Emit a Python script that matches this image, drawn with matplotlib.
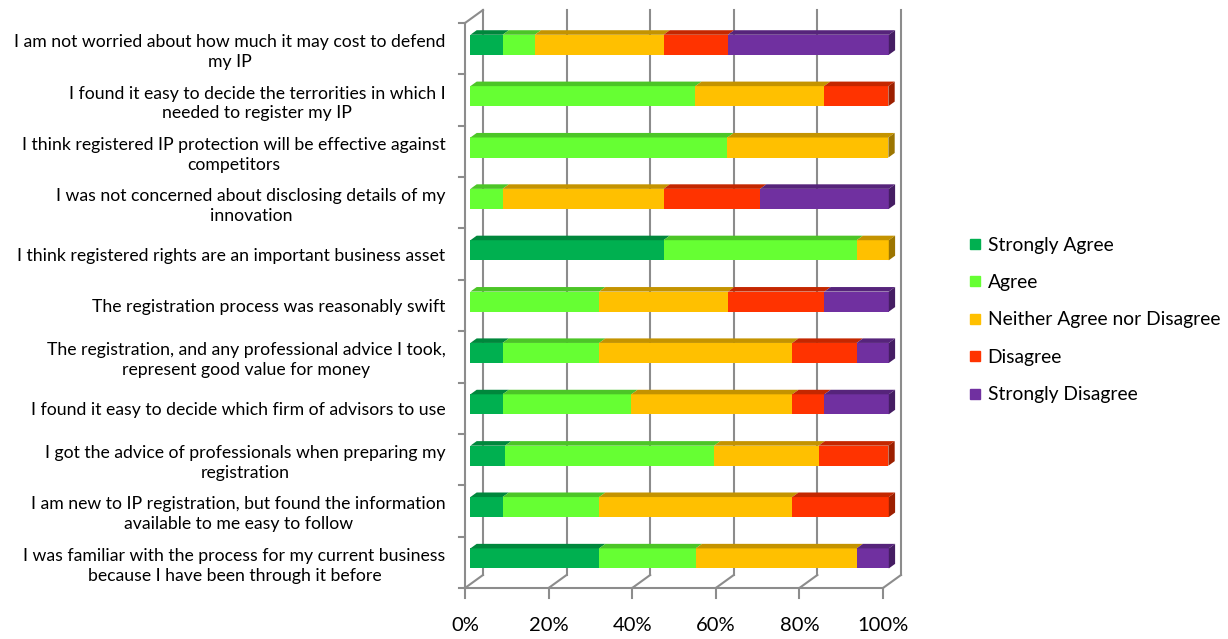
import matplotlib.pyplot as plt
from matplotlib.lines import Line2D

plt.rcParams['font.family'] = ['Lato', 'DejaVu Sans']

# survey statements, top to bottom
statements = [
    "I am not worried about how much it may cost to defend\nmy IP",
    "I found it easy to decide the terrorities in which I\nneeded to register my IP",
    "I think registered IP protection will be effective against\ncompetitors",
    "I was not concerned about disclosing details of my\ninnovation",
    "I think registered rights are an important business asset",
    "The registration process was reasonably swift",
    "The registration, and any professional advice I took,\nrepresent good value for money",
    "I found it easy to decide which firm of advisors to use",
    "I got the advice of professionals when preparing my\nregistration",
    "I am new to IP registration, but found the information\navailable to me easy to follow",
    "I was familiar with the process for my current business\nbecause I have been through it before",
]

# share of answers in percent
strongly_agree = [7.7, 0, 0, 0, 46.2, 0, 7.7, 7.7, 8.3, 7.7, 30.8]
agree = [7.7, 53.8, 61.5, 7.7, 46.2, 30.8, 23.1, 30.8, 50.0, 23.1, 23.1]
neither = [30.8, 30.8, 38.5, 38.5, 7.7, 30.8, 46.2, 38.5, 25.0, 46.2, 38.5]
disagree = [15.4, 15.4, 0, 23.1, 0, 23.1, 15.4, 7.7, 16.7, 23.1, 0]
strongly_disagree = [38.5, 0, 0, 30.8, 0, 15.4, 7.7, 15.4, 0, 0, 7.7]

series = [strongly_agree, agree, neither, disagree, strongly_disagree]
names = ["Strongly Agree", "Agree", "Neither Agree nor Disagree",
         "Disagree", "Strongly Disagree"]
front_col = ["#00B050", "#66FF33", "#FFC000", "#FF3300", "#7030A0"]
top_col = ["#00873C", "#4CC527", "#C49300", "#C42700", "#56247B"]
side_col = ["#006B30", "#3C9E1F", "#9C7500", "#9C1F00", "#451D63"]

x_ticks = [0, 20, 40, 60, 80, 100]
x_ticklabels = ["0%", "20%", "40%", "60%", "80%", "100%"]

# fake 3d depth: shift per unit depth in data units
DX = 4.3
DY = 0.253
d0, d1 = 0.3, 0.65
h = 0.195
grid = "#8c8c8c"


def proj(x, y, d):
    return x + d * DX, y - d * DY


def poly(ax, pts, color):
    xs = [p[0] for p in pts]
    ys = [p[1] for p in pts]
    ax.fill(xs, ys, color=color, lw=0, clip_on=False, zorder=3)


fig = plt.figure(figsize=(12.28, 6.39), dpi=100)
ax = fig.add_axes([465 / 1228, 51 / 639, 418 / 1228, 565 / 639])
ax.set_xlim(0, 100)
ax.set_ylim(10.5, -0.5)
n = len(statements)

# walls and floor
for x in x_ticks:
    ax.plot(*zip(proj(x, -0.5, 1), proj(x, 10.5, 1)), color=grid, lw=1.5,
            clip_on=False, zorder=1)
    ax.plot(*zip(proj(x, 10.5, 0), proj(x, 10.5, 1)), color=grid, lw=1.5,
            clip_on=False, zorder=1)
    ax.plot([x, x], [10.5, 10.5 + 0.19], color=grid, lw=1.5, clip_on=False)
ax.plot([0, 100], [10.5, 10.5], color=grid, lw=1.5, clip_on=False)
ax.plot([0, 0], [-0.5, 10.5], color=grid, lw=1.5, clip_on=False)
ax.plot(*zip(proj(0, -0.5, 0), proj(0, -0.5, 1)), color=grid, lw=1.5,
        clip_on=False)
for i in range(n + 1):
    ax.plot([-1.4, 0], [i - 0.5, i - 0.5], color=grid, lw=1.5, clip_on=False)

# stacked 3d bars
for i in range(n):
    left = 0
    last = 0
    for k, vals in enumerate(series):
        v = vals[i]
        if v <= 0:
            continue
        r = left + v
        poly(ax, [proj(left, i - h, d0), proj(r, i - h, d0),
                  proj(r, i + h, d0), proj(left, i + h, d0)], front_col[k])
        poly(ax, [proj(left, i - h, d0), proj(r, i - h, d0),
                  proj(r, i - h, d1), proj(left, i - h, d1)], top_col[k])
        left = r
        last = k
    poly(ax, [proj(left, i - h, d0), proj(left, i - h, d1),
              proj(left, i + h, d1), proj(left, i + h, d0)], side_col[last])

for s in ax.spines.values():
    s.set_visible(False)
ax.set_yticks(range(n))
ax.set_yticklabels(statements, fontsize=12.7, color="#000000")
for lbl in ax.get_yticklabels():
    lbl.set_multialignment("center")
    lbl.set_linespacing(1.3)
ax.tick_params(axis="y", length=0, pad=14)
ax.set_xticks(x_ticks)
ax.set_xticklabels(x_ticklabels, fontsize=14.5, color="#000000")
ax.tick_params(axis="x", length=0, pad=21)

handles = [Line2D([], [], marker="s", ls="", markersize=7.5,
                  markerfacecolor=c, markeredgecolor=c) for c in front_col]
fig.legend(handles, names, loc="center left",
           bbox_to_anchor=(948 / 1228, 1 - 320 / 639), frameon=False,
           fontsize=13.9, labelspacing=1.06, handletextpad=0.15,
           handlelength=1.0)

fig.savefig("out.png", dpi=100)
